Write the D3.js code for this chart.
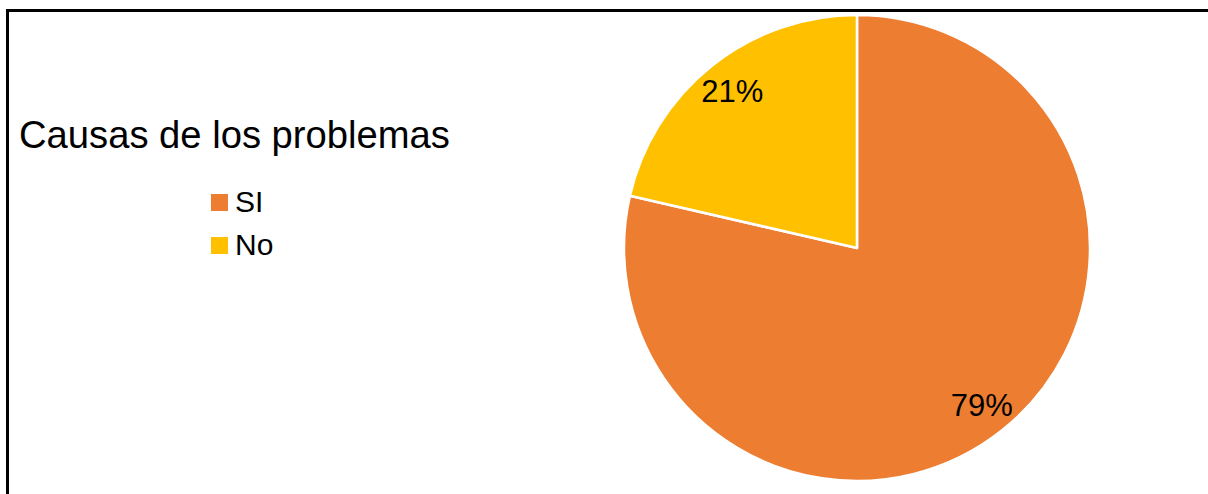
<!DOCTYPE html>
<html>
<head>
<meta charset="utf-8">
<script src="https://cdn.jsdelivr.net/npm/d3@7"></script>
<style>
  body { margin: 0; background: #fff; }
  svg { display: block; font-family: Arial, "Liberation Sans", sans-serif; }
</style>
</head>
<body>
<svg id="chart" width="1208" height="494"></svg>
<script>
// chart data
const categories = ["SI", "No"];
const values = [78.6, 21.4];
const colors = ["#ED7D31", "#FFC000"];
const title = "Causas de los problemas";

const width = 1208;
const height = 494;

const svg = d3.select("#chart");

// outer frame (right and bottom edges fall outside the picture)
svg.append("rect")
  .attr("x", 7.5)
  .attr("y", 10.5)
  .attr("width", width + 20)
  .attr("height", height + 20)
  .attr("fill", "none")
  .attr("stroke", "#000")
  .attr("stroke-width", 3);

// title
svg.append("text")
  .attr("x", 19)
  .attr("y", 148)
  .style("font-size", "38.2px")
  .style("fill", "#000")
  .text(title);

// legend
const legend = svg.append("g")
  .attr("transform", "translate(211,0)");

const legendItems = legend.selectAll("g")
  .data(categories)
  .join("g")
  .attr("transform", (d, i) => `translate(0,${212 + i * 43})`);

legendItems.append("rect")
  .attr("x", 0)
  .attr("y", -18)
  .attr("width", 17)
  .attr("height", 17)
  .attr("fill", (d, i) => colors[i]);

legendItems.append("text")
  .attr("x", 24)
  .attr("y", 0)
  .style("font-size", "30px")
  .style("fill", "#000")
  .text(d => d);

// pie
const cx = 857;
const cy = 248;
const radius = 233;

const pie = d3.pie().sort(null).value(d => d)(values);
const arc = d3.arc().innerRadius(0).outerRadius(radius);
const labelArc = d3.arc().innerRadius(radius * 0.86).outerRadius(radius * 0.86);

const g = svg.append("g")
  .attr("transform", `translate(${cx},${cy})`);

g.selectAll("path")
  .data(pie)
  .join("path")
  .attr("d", arc)
  .attr("fill", (d, i) => colors[i])
  .attr("stroke", "#fff")
  .attr("stroke-width", 2.5)
  .attr("stroke-linejoin", "round");

g.selectAll(".label")
  .data(pie)
  .join("text")
  .attr("class", "label")
  .attr("transform", d => `translate(${labelArc.centroid(d)})`)
  .attr("text-anchor", "middle")
  .attr("dy", "0.36em")
  .style("font-size", "31px")
  .style("fill", "#000")
  .text(d => Math.round(d.data) + "%");
</script>
</body>
</html>
